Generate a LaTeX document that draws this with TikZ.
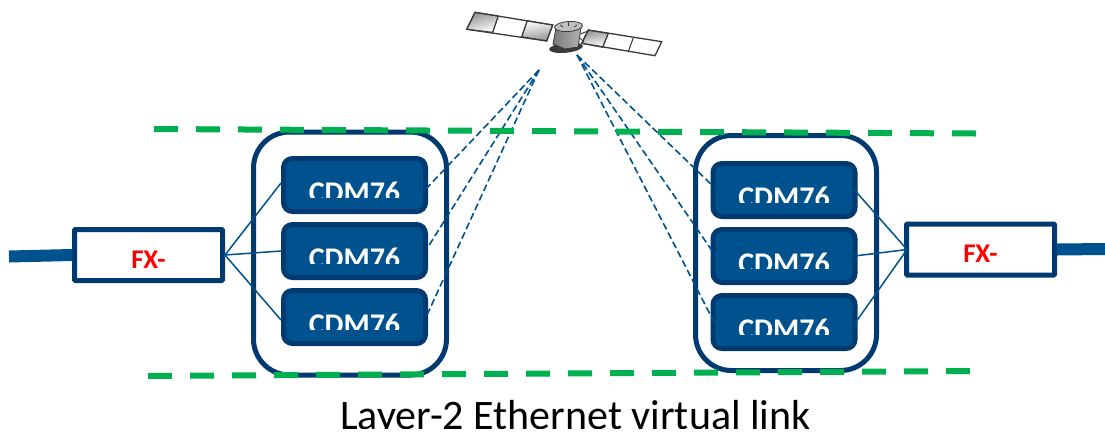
\documentclass[tikz,border=0pt]{standalone}
\usepackage{fontspec}
\setmainfont{Carlito}
\usetikzlibrary{calc,shadings}
\definecolor{navy}{HTML}{003A70}
\definecolor{blueF}{HTML}{00528F}
\definecolor{greenD}{HTML}{00B050}
\definecolor{satD}{HTML}{3A3A3A}
\tikzset{
  x=1pt,y=-1pt,
  container/.style={draw=navy,line width=5pt,rounded corners=36pt,fill=white,minimum width=#1,inner sep=0pt},
  cdmbox/.style={draw=navy,line width=5pt,fill=blueF,rounded corners=9pt,minimum width=142pt,minimum height=53pt,inner sep=0pt},
  cdmtext/.style={text=white,font=\bfseries\fontsize{30}{30}\selectfont,inner sep=0pt,anchor=base},
  fxbox/.style={draw=navy,line width=5pt,fill=white,rounded corners=1pt,minimum width=148pt,minimum height=51pt,inner sep=0pt},
  fxtext/.style={text=red,font=\bfseries\fontsize{27}{27}\selectfont,inner sep=0pt,anchor=base},
  trunk/.style={draw=blueF,line width=12pt},
  link/.style={draw=blueF,line width=1.5pt},
  satlink/.style={draw=blueF,line width=1.6pt,dash pattern=on 7pt off 3.5pt},
  border/.style={draw=greenD,line width=6pt,dash pattern=on 24pt off 18pt},
  panel/.style={draw=satD,line width=1pt},
}
\newcommand{\cdmlabel}[1]{%
  \begin{scope}
    \clip ($(#1.west)+(0,-30)$) rectangle ($(#1.east)+(0,12)$);
    \node[cdmtext] at ($(#1.center)+(0,17)$) {CDM76};
  \end{scope}}
\begin{document}
\begin{tikzpicture}
\useasboundingbox (0,0) rectangle (1105,432);
\fill[white] (0,0) rectangle (1105,432);

% containers
\node[container=193pt,minimum height=243pt] (groupL) at (350,253.5) {};
\node[container=181pt,minimum height=235pt] (groupR) at (786,253) {};

% modems
\node[cdmbox] (cdmL1) at (354.5,185) {};
\node[cdmbox] (cdmL2) at (354.5,251) {};
\node[cdmbox] (cdmL3) at (354.5,317) {};
\node[cdmbox] (cdmR1) at (784,190) {};
\node[cdmbox] (cdmR2) at (784,256) {};
\node[cdmbox] (cdmR3) at (784,322) {};
\cdmlabel{cdmL1}\cdmlabel{cdmL2}\cdmlabel{cdmL3}
\cdmlabel{cdmR1}\cdmlabel{cdmR2}\cdmlabel{cdmR3}

% FX boxes
\node[fxbox] (fxL) at (148.5,255) {};
\node[fxbox] (fxR) at (980.5,249.5) {};
\node[fxtext] at ($(fxL.center)+(0,13)$) {FX-};
\node[fxtext] at ($(fxR.center)+(0,13)$) {FX-};

% trunks
\coordinate (trunkL) at (9,256.5);
\coordinate (trunkR) at (1105,249);
\draw[trunk] (trunkL) -- (fxL.west);
\draw[trunk] (fxR.east) -- (trunkR);

% links to FX
\draw[link] (fxL.east) -- ([yshift=2pt]cdmL1.west);
\draw[link] (fxL.east) -- (cdmL2.west);
\draw[link] (fxL.east) -- ([yshift=-3pt]cdmL3.west);
\draw[link] ([xshift=3pt]fxR.west) -- ([xshift=-3pt]cdmR1.east);
\draw[link] ([xshift=3pt]fxR.west) -- ([xshift=-3pt]cdmR2.east);
\draw[link] ([xshift=3pt]fxR.west) -- ([xshift=-3pt,yshift=-2pt]cdmR3.east);

% satellite
\begin{scope}
  \shade[panel,left color=gray!85,right color=white,shading angle=15]
    (475,12.3) -- (498.3,16) -- (492.7,32.3) -- (466.7,29.3) -- cycle;
  \shade[panel,left color=white,right color=gray!85,shading angle=10]
    (527.3,20.7) -- (552.7,25) -- (546.7,41) -- (521.7,36.7) -- cycle;
  \draw[panel,line width=1.3pt] (475,12.3) -- (552.7,25) -- (546.7,41) -- (466.7,29.3) -- cycle;
  \draw[panel] (498.3,16) -- (492.7,32.3) (527.3,20.7) -- (521.7,36.7);
  \shade[panel,left color=gray!85,right color=white,shading angle=10]
    (588.3,30) -- (608.3,33.3) -- (602.7,47.3) -- (581.7,43.3) -- cycle;
  \draw[panel,line width=1.3pt] (588.3,30) -- (661.7,41.7) -- (655,55.7) -- (581.7,43.3) -- cycle;
  \draw[panel] (608.3,33.3) -- (602.7,47.3) (633.3,37.7) -- (628.3,51.7);
  \draw[panel] (580,34) -- (588.3,31) (580,38) -- (584,42);
  \fill[satD] (566,47.7) ellipse [x radius=17pt,y radius=5pt,rotate=6];
  \shade[left color=gray!95!black,right color=gray!60,draw=satD,line width=.8pt]
    (556,28) -- (553,44) -- (565,49) -- (578,47) -- (581,28) -- cycle;
  \draw[satD,fill=gray!50,line width=.8pt] (568.5,26.5) ellipse [x radius=14pt,y radius=5pt,rotate=4];
  \draw[satD,line width=.7pt] (568.5,22) -- (568.5,26) (560,25) -- (563,27) (577,25) -- (574,27);
\end{scope}
\coordinate (satL) at (539,70);
\coordinate (satR) at (577,55);

% satellite links
\draw[satlink] (satL) -- (423,192);
\draw[satlink] (satL) -- (428,247);
\draw[satlink] (satL) -- (427,315);
\draw[satlink] (satR) -- (715,188);
\draw[satlink] (satR) -- (715,255);
\draw[satlink] (satR) -- (714,322);

% green bounds
\coordinate (topA) at (154,129);
\coordinate (topB) at (976,133.5);
\coordinate (botA) at (148,376);
\coordinate (botB) at (970,371);
\draw[border] (topA) -- (topB);
\draw[border] (botA) -- (botB);

% caption
\begin{scope}
  \clip (300,395) rectangle (850,428);
  \node[inner sep=0pt,anchor=base,font=\fontsize{42}{42}\selectfont,text=black] (caption) at (575.5,429) {Layer-2 Ethernet virtual link};
\end{scope}
\end{tikzpicture}
\end{document}
